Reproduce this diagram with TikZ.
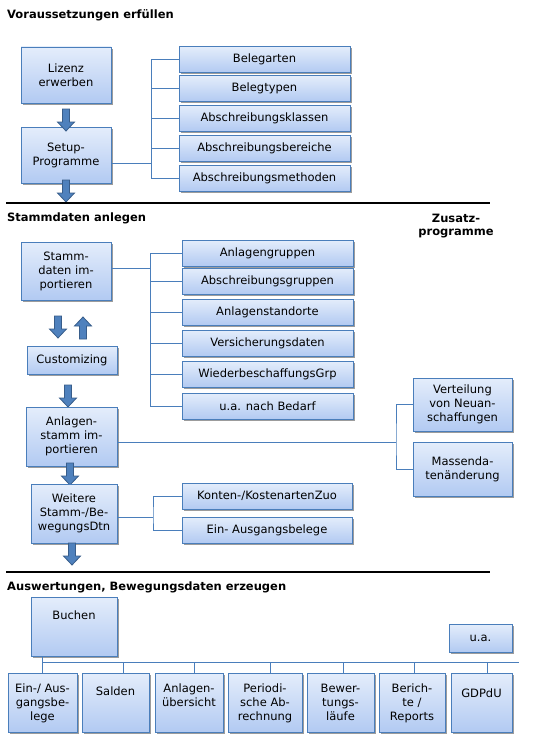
\documentclass[tikz,border=0pt]{standalone}
\usepackage{fontspec}
\setmainfont{DejaVu Sans}
\usetikzlibrary{shadows}
\definecolor{boxtop}{HTML}{E4EDFB}
\definecolor{boxbot}{HTML}{B2CAF2}
\definecolor{boxline}{HTML}{4A7EBB}
\definecolor{arrfill}{HTML}{4F81BD}
\definecolor{arrline}{HTML}{385D8A}
\definecolor{shadowgray}{HTML}{9C9C9C}
\newcommand\toptext[4]{\parbox[c][#2pt][t]{#1pt}{\centering\rule{0pt}{#3pt}#4\par}}
\begin{document}
\begin{tikzpicture}[x=1pt,y=-1pt,
  font=\fontsize{11.5}{14}\selectfont,
  box/.style={draw=boxline, line width=0.9pt, top color=boxtop, bottom color=boxbot,
    align=center, inner sep=1pt,
    drop shadow={shadow xshift=1.8pt, shadow yshift=-1.8pt, fill=shadowgray, opacity=1}},
  topbox/.style={box, inner sep=0pt},
  rbox/.style={box, minimum width=171, minimum height=26},
  conn/.style={draw=boxline, line width=0.9pt},
  title/.style={anchor=west, inner sep=0pt, font=\bfseries\fontsize{11.5}{14}\selectfont},
  rule/.style={draw=black, line width=1.2pt},
  pics/downarr/.style={code={
    \filldraw[fill=arrfill, draw=arrline, line width=0.8pt]
      (-3.5,0) -- (3.5,0) -- (3.5,13) -- (8.5,13) -- (0,22) -- (-8.5,13) -- (-3.5,13) -- cycle;}}
]
\useasboundingbox[fill=white] (0,0) rectangle (546,752);

% ---------- Section 1
\node[title] (title1) at (7,15) {Voraussetzungen erfüllen};
\node[box, minimum width=90, minimum height=56] (lizenz) at (66,75) {Lizenz\\erwerben};
\node[box, minimum width=90, minimum height=56] (setup) at (66,155) {Setup-\\Programme};
\pic at (66,109) {downarr};
\pic at (66,180) {downarr};

\node[rbox] (r11) at (264.5,59.5) {Belegarten};
\node[rbox] (r12) at (264.5,88.5) {Belegtypen};
\node[rbox] (r13) at (264.5,118) {Abschreibungsklassen};
\node[rbox] (r14) at (264.5,148) {Abschreibungsbereiche};
\node[rbox] (r15) at (264.5,178) {Abschreibungsmethoden};
\coordinate (t1) at (151,163);
\draw[conn] (setup.east |- t1) -- (t1);
\foreach \n in {r11,r12,r13,r14,r15} \draw[conn] (\n.west) -| (t1);

\draw[rule] (6,203) -- (490,203);

% ---------- Section 2
\node[title] (title2) at (7,218) {Stammdaten anlegen};
\node[align=center, inner sep=0pt, font=\bfseries\fontsize{11.5}{12.5}\selectfont] (zusatz) at (456,226) {Zusatz-\\programme};

\node[box, minimum width=90, minimum height=58] (stamm) at (66,271) {Stamm-\\daten im-\\portieren};
\pic at (58,316) {downarr};
\pic[rotate=180] at (83,339) {downarr};
\node[box, minimum width=90, minimum height=28] (custom) at (72,360) {Customizing};
\pic at (68,385) {downarr};
\node[box, minimum width=91, minimum height=59] (anlagen) at (71.5,436.5) {Anlagen-\\stamm im-\\portieren};
\pic at (70,463) {downarr};
\node[box, minimum width=86, minimum height=59] (weitere) at (74,513.5) {Weitere\\Stamm-/Be-\\wegungsDtn};
\pic at (72,543) {downarr};

\node[rbox] (r21) at (267.5,253) {Anlagengruppen};
\node[rbox] (r22) at (267.5,281) {Abschreibungsgruppen};
\node[rbox] (r23) at (267.5,312) {Anlagenstandorte};
\node[rbox] (r24) at (267.5,343) {Versicherungsdaten};
\node[rbox] (r25) at (267.5,374) {WiederbeschaffungsGrp};
\node[rbox] (r26) at (267.5,406) {u.a. nach Bedarf};
\coordinate (t2) at (150,268);
\draw[conn] (stamm.east |- t2) -- (t2);
\foreach \n in {r21,r22,r23,r24,r25,r26} \draw[conn] (\n.west) -| (t2);

\node[box, minimum width=99, minimum height=53] (vert) at (462.5,404.5) {Verteilung\\von Neuan-\\schaffungen};
\node[box, minimum width=99, minimum height=54] (mass) at (462.5,469) {Massenda-\\tenänderung};
\coordinate (zb) at (396,442);
\draw[conn] (anlagen.east |- zb) -- (zb);
\draw[conn] (vert.west) -| (zb) |- (mass.west);

\node[box, minimum width=170, minimum height=26] (konten) at (267,496) {Konten-/KostenartenZuo};
\node[box, minimum width=170, minimum height=26] (einaus) at (267,530) {Ein- Ausgangsbelege};
\coordinate (t3) at (153,517);
\draw[conn] (weitere.east |- t3) -- (t3);
\draw[conn] (konten.west) -| (t3) |- (einaus.west);

\draw[rule] (6,572) -- (490,572);

% ---------- Section 3
\node[title] (title3) at (7,587) {Auswertungen, Bewegungsdaten erzeugen};
\node[topbox] (buchen) at (74,626.5) {\toptext{86}{59}{22}{Buchen}};
\node[box, minimum width=63, minimum height=28] (ua) at (480.5,638) {u.a.};

\node[topbox] (b1) at (42.5,702.5) {\toptext{69}{59}{19}{Ein-/ Aus-\\gangsbe-\\lege}};
\node[topbox] (b2) at (115.5,702.5) {\toptext{67}{59}{22}{Salden}};
\node[topbox] (b3) at (189,702.5) {\toptext{68}{59}{19}{Anlagen-\\übersicht}};
\node[topbox] (b4) at (265,702.5) {\toptext{74}{59}{19}{Periodi-\\sche Ab-\\rechnung}};
\node[topbox] (b5) at (340.5,702.5) {\toptext{67}{59}{19}{Bewer-\\tungs-\\läufe}};
\node[topbox] (b6) at (412,702.5) {\toptext{66}{59}{19}{Berich-\\te /\\Reports}};
\node[topbox] (b7) at (481.5,702.5) {\toptext{61}{59}{24}{GDPdU}};

\coordinate (busR) at (519,662);
\draw[conn] (b1.north |- buchen.south) -- (b1.north);
\draw[conn] (b1.north |- busR) -- (busR);
\draw[conn] ([xshift=7.5pt]b2.north) -- ([xshift=7.5pt]b2.north |- busR);
\draw[conn] ([xshift=5pt]b3.north) -- ([xshift=5pt]b3.north |- busR);
\draw[conn] ([xshift=5pt]b4.north) -- ([xshift=5pt]b4.north |- busR);
\draw[conn] ([xshift=2.5pt]b5.north) -- ([xshift=2.5pt]b5.north |- busR);
\draw[conn] ([xshift=2pt]b6.north) -- ([xshift=2pt]b6.north |- busR);
\draw[conn] ([xshift=5.5pt]b7.north) -- ([xshift=5.5pt]b7.north |- busR);
\end{tikzpicture}
\end{document}
